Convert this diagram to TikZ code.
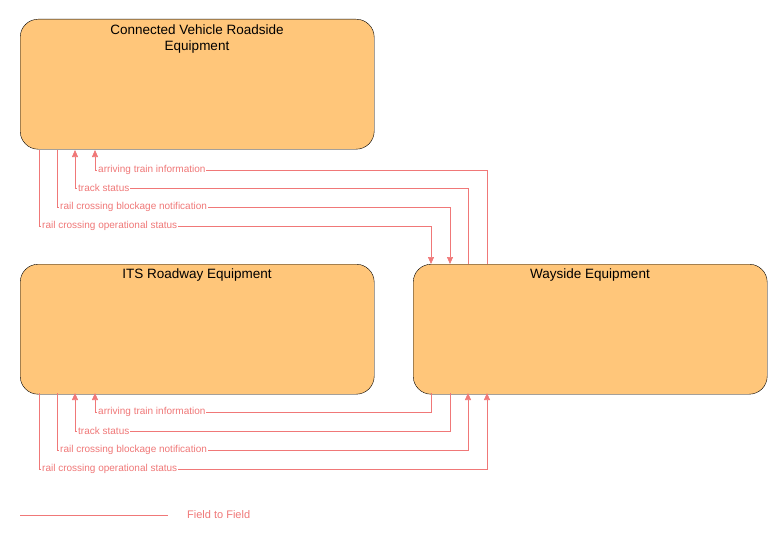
\documentclass[tikz,border=0pt]{standalone}
\usepackage{fontspec}
\setmainfont{Liberation Sans}
\usetikzlibrary{arrows.meta}
\definecolor{boxfill}{HTML}{FFC67A}
\definecolor{flow}{HTML}{F07878}
\begin{document}
\begin{tikzpicture}[x=1pt,y=-1pt]
   \tikzstyle{element}=[draw, rounded corners=18pt, fill=boxfill, minimum width=354pt, minimum height=130pt, anchor=north west]
   \tikzstyle{flowline}=[draw=flow, line width=0.7pt]
   \tikzstyle{flowarrow}=[flowline, -{Triangle[length=7pt,width=6pt]}]
   \tikzstyle{flowlabel}=[text=flow, fill=white, inner sep=1pt, anchor=west, font=\fontsize{10}{12}\selectfont]
   \tikzstyle{title}=[anchor=north, align=center, font=\fontsize{13.5}{16}\selectfont]

\useasboundingbox (0,0) rectangle (783,543);

\node[element] (cvre) at (20,19) {};
\node[element] (its) at (20,264) {};
\node[element] (way) at (413,264) {};
\node[title] at (197,21) {Connected Vehicle Roadside\\Equipment};
\node[title] at (197,265) {ITS Roadway Equipment};
\node[title] at (590,265) {Wayside Equipment};

% wayside <-> connected vehicle roadside equipment
\coordinate (a1) at (487,264);
\coordinate (a2) at (95,150);
\draw[flowarrow] (a1) -- (487,170) -- (95,170) -- (a2);
\node[flowlabel] at (97,170) {arriving train information};
\coordinate (b1) at (468,264);
\coordinate (b2) at (75,150);
\draw[flowarrow] (b1) -- (468,188) -- (75,188) -- (b2);
\node[flowlabel] at (77,188) {track status};
\coordinate (c1) at (57,150);
\coordinate (c2) at (450,264);
\draw[flowarrow] (c1) -- (57,207) -- (450,207) -- (c2);
\node[flowlabel] at (59,207) {rail crossing blockage notification};
\coordinate (d1) at (39,150);
\coordinate (d2) at (431,264);
\draw[flowarrow] (d1) -- (39,226) -- (431,226) -- (d2);
\node[flowlabel] at (41,226) {rail crossing operational status};

% wayside <-> its roadway equipment
\coordinate (e1) at (431,393);
\coordinate (e2) at (95,393);
\draw[flowarrow] (e1) -- (431,412) -- (95,412) -- (e2);
\node[flowlabel] at (97,412) {arriving train information};
\coordinate (f1) at (450,393);
\coordinate (f2) at (75,393);
\draw[flowarrow] (f1) -- (450,431) -- (75,431) -- (f2);
\node[flowlabel] at (77,431) {track status};
\coordinate (g1) at (57,393);
\coordinate (g2) at (468,393);
\draw[flowarrow] (g1) -- (57,450) -- (468,450) -- (g2);
\node[flowlabel] at (59,450) {rail crossing blockage notification};
\coordinate (h1) at (39,393);
\coordinate (h2) at (487,393);
\draw[flowarrow] (h1) -- (39,469) -- (487,469) -- (h2);
\node[flowlabel] at (41,469) {rail crossing operational status};

% legend
\coordinate (l1) at (20,515);
\coordinate (l2) at (168,515);
\draw[flowline] (l1) -- (l2);
\node[flowlabel, font=\fontsize{11}{13}\selectfont] at (186,515) {Field to Field};
\end{tikzpicture}
\end{document}
